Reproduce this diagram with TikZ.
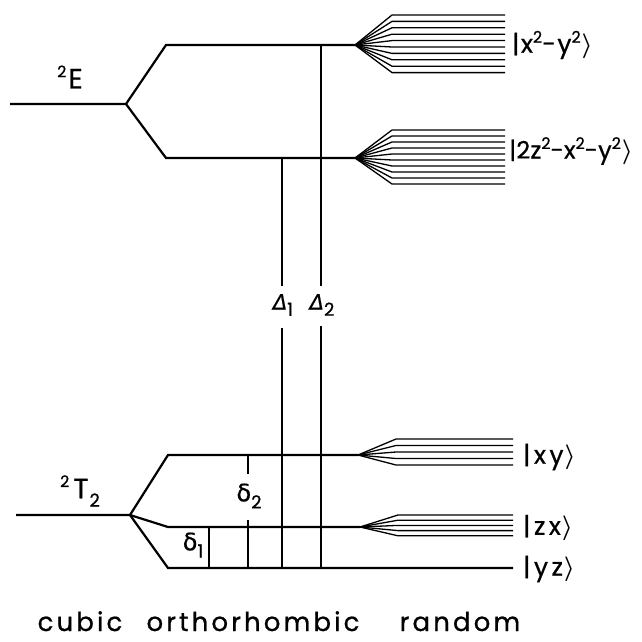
\documentclass[tikz,border=0pt]{standalone}
\usepackage{fontspec}
\usepackage{amsmath}
\setmainfont{Poppins}[FakeBold=0.8]
\newfontfamily\capfont{Poppins}[LetterSpace=12,FakeBold=0.8]
\newfontfamily\ketfont{Poppins}[LetterSpace=6,FakeBold=0.8]
\newfontfamily\ketnarrow{Poppins}[LetterSpace=1,FakeBold=0.8]
\newfontfamily\ketwide{Poppins}[LetterSpace=14,FakeBold=0.8]
\newfontfamily\grk{DejaVu Sans}[FakeBold=0.6]
\newcommand\supt[1]{\raisebox{0.40em}{\fontsize{16}{16}\selectfont #1}}
\newcommand\subt[1]{\raisebox{-0.3em}{\fontsize{18}{18}\selectfont #1}}
\newcommand\rket{\kern1pt$\boldsymbol{\rangle}$}
\begin{document}
\begin{tikzpicture}[x=1pt,y=-1pt,
  level/.style={line width=2.2pt},
  gap/.style={line width=1.1pt},
  fanline/.style={line width=1.3pt},
  ket/.style={inner sep=0pt, anchor=west, font=\ketfont\fontsize{25}{25}\selectfont},
  ketn/.style={inner sep=0pt, anchor=west, font=\ketnarrow\fontsize{24}{24}\selectfont},
  ketw/.style={inner sep=0pt, anchor=west, font=\ketwide\fontsize{25}{25}\selectfont},
  term/.style={inner sep=0pt, font=\fontsize{28}{28}\selectfont},
  sym/.style={inner sep=0pt, font=\fontsize{21}{21}\selectfont},
  captxt/.style={inner sep=0pt, anchor=base, font=\capfont\fontsize{26}{26}\selectfont}]
\useasboundingbox (0,0) rectangle (641,642);
% ---- 2E levels
\coordinate (E0) at (10,104);
\coordinate (Es) at (126,104);
\coordinate (Eu1) at (166,45);
\coordinate (Eu2) at (355,45);
\coordinate (El1) at (166,158);
\coordinate (El2) at (355,158);
\draw[level] (E0) -- (Es) -- (Eu1) -- (Eu2);
\draw[level] (Es) -- (El1) -- (El2);
\foreach \k in {0,...,9}{
  \pgfmathsetmacro\yy{15+6.4*\k}
  \draw[fanline] (Eu2) -- (392,\yy) -- (505,\yy);
  \pgfmathsetmacro\yz{130+6.0*\k}
  \draw[fanline] (El2) -- (392,\yz) -- (505,\yz);
}
% ---- 2T2 levels
\coordinate (T0) at (16,515);
\coordinate (Ts) at (130,515);
\coordinate (Xy1) at (168,455);
\coordinate (Xy2) at (358,455);
\coordinate (Zx1) at (168,527);
\coordinate (Zx2) at (360,527);
\coordinate (Yz1) at (168,568);
\coordinate (Yz2) at (513,568);
\draw[level] (T0) -- (Ts) -- (Xy1) -- (Xy2);
\draw[level] (Ts) -- (Zx1) -- (Zx2);
\draw[level] (Ts) -- (Yz1) -- (Yz2);
\foreach \k in {0,...,4}{
  \pgfmathsetmacro\yy{439+6.5*\k}
  \draw[fanline] (Xy2) -- (396,\yy) -- (513,\yy);
  \pgfmathsetmacro\yz{515+5.2*\k}
  \draw[fanline] (Zx2) -- (398,\yz) -- (513,\yz);
}
% ---- gaps
\node[sym] (D1) at (283,305) {{\grk\itshape Δ}\subt{1}};
\node[sym] (D2) at (322,305) {{\grk\itshape Δ}\subt{2}};
\coordinate (D1t) at (282,158);
\coordinate (D1a) at (282,286);
\coordinate (D1b) at (282,328);
\coordinate (D1e) at (282,568);
\coordinate (D2t) at (321,45);
\coordinate (D2a) at (321,286);
\coordinate (D2b) at (321,326);
\coordinate (D2e) at (321,568);
\draw[gap] (D1t) -- (D1a) (D1b) -- (D1e);
\draw[gap] (D2t) -- (D2a) (D2b) -- (D2e);
\node[sym,font=\fontsize{24}{24}\selectfont] (d2) at (249,496) {{\grk δ}\subt{2}};
\node[sym,font=\fontsize{24}{24}\selectfont] (d1) at (193,545) {{\grk δ}\subt{1}};
\coordinate (d2t) at (248,455);
\coordinate (d2a) at (248,474);
\coordinate (d2b) at (248,520);
\coordinate (d2e) at (248,568);
\coordinate (d1t) at (209,527);
\coordinate (d1e) at (209,568);
\draw[gap] (d2t) -- (d2a) (d2b) -- (d2e);
\draw[gap] (d1t) -- (d1e);
% ---- labels
\node[term] (lE) at (70,77) {\supt{2}\kern2pt E};
\node[term] (lT) at (80,491) {\supt{2}\kern4pt T\kern1pt\subt{2}};
\node[ket] (k1) at (512,45) {|x\supt{2}-y\supt{2}\rket};
\node[ketn] (k2) at (509,151) {|2z\supt{2}-x\supt{2}-y\supt{2}\rket};
\node[ketw] (k3) at (523,457) {|xy\rket};
\node[ketw] (k4) at (523,528) {|zx\rket};
\node[ketw] (k5) at (523,569) {|yz\rket};
\node[captxt] (c1) at (80,631) {cubic};
\node[captxt] (c2) at (253,631) {orthorhombic};
\node[captxt] (c3) at (460,631) {random};
\end{tikzpicture}
\end{document}
